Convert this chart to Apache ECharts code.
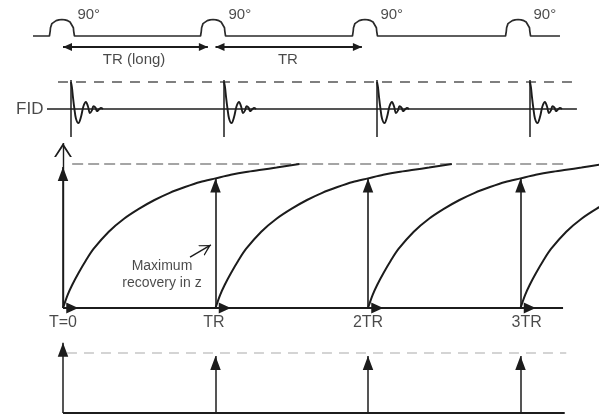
<!DOCTYPE html>
<html><head><meta charset="utf-8">
<script src="https://cdn.jsdelivr.net/npm/echarts@6/dist/echarts.min.js"></script>
<style>html,body{margin:0;padding:0;background:#fff}#c{width:599px;height:416px}</style>
</head><body><div id="c"></div>
<script>
// ---------------- data (time in units of TR) ----------------
const pulseTimes = [-0.007, 0.984, 1.98, 2.984];
const pulseLabel = '90°';
const humpDt  = [-0.082, -0.077, -0.075, -0.066, -0.053, -0.038, -0.020, 0, 0.020, 0.038, 0.053, 0.066, 0.075, 0.077, 0.082];
const humpAmp = [0, 0.3, 0.5, 0.75, 0.85, 0.93, 0.98, 1, 0.98, 0.93, 0.85, 0.75, 0.5, 0.3, 0];
const rfSpan = [-0.197, 3.259];
const trArrowSpans = [[0, 0.95], [1.0, 1.96]];
const trArrowLabels = ['TR (long)', 'TR'];
const trArrowLabelT = [0.466, 1.475];

const fidTimes = [0.052, 1.056, 2.059, 3.062];
const fidDt  = [0, 0.0066, 0.0131, 0.023, 0.0328, 0.0492, 0.0656, 0.082, 0.0984, 0.1115, 0.1246, 0.1377, 0.1475, 0.1607, 0.1705, 0.1836, 0.1967, 0.2098];
const fidAmp = [1.0, 0.8, 0.45, 0.0, -0.35, -0.52, -0.3, 0.1, 0.26, 0.1, -0.15, -0.05, 0.1, 0.05, -0.08, -0.02, 0.04, 0];
const fidMarkerRange = [-1.04, 1.07];
const fidBaseSpan = [-0.105, 3.37];
const fidDashSpan = [-0.033, 3.37];

const tickTimes = [0, 1, 2, 3];
const tickLabels = ['T=0', 'TR', '2TR', '3TR'];
const tickLabelT = [0, 0.99, 2.0, 3.04];
const recoveryDt = [0, 0.03, 0.06, 0.1, 0.15, 0.2, 0.3, 0.4, 0.5, 0.6, 0.7, 0.8, 0.9, 1.0, 1.1, 1.2, 1.3, 1.4, 1.55];
const recoveryMz = [0, 0.09, 0.16, 0.24, 0.33, 0.41, 0.53, 0.62, 0.69, 0.75, 0.80, 0.84, 0.875, 0.90, 0.925, 0.945, 0.96, 0.975, 1.0];
const mzArrowValues = [0.98, 0.90, 0.90, 0.90];
const mzAxisTop = 1.146;
const mzBaseSpan = [0, 3.279];
const mzDashSpan = [0.06, 3.31];
const annotationText = 'Maximum\nrecovery in z';
const annotationAt = [0.649, 0.233];
const annotationArrow = [[0.833, 0.354], [0.97, 0.438]];

const mxyArrowValues = [1.17, 0.95, 0.95, 0.95];
const mxyBaseSpan = [0, 3.29];
const mxyDashSpan = [0.026, 3.3];

// ---------------- layout ----------------
const W = 599, T0_PX = 63, TR_PX = 152.5;
const xMin = -T0_PX / TR_PX, xMax = (W - T0_PX) / TR_PX;
function band(zeroPx, pxPerUnit, yMin, yMax) {
  return { top: zeroPx - yMax * pxPerUnit, height: (yMax - yMin) * pxPerUnit, yMin, yMax };
}
const panels = [band(36, 16.5, -2, 2), band(109, 27, -1.5, 1.5), band(308, 144, -0.2, 1.25), band(413, 60, -0.05, 1.3)];

const C = '#1c1c1c';
const FONT = 'Liberation Sans';
// arrowhead glyphs: tip sits at the centre of a square box of side 2*len (box side = symbol size)
function head(width, len, open) {
  const s = 2 * len, c = len, hw = width / 2;
  let p = `path://M${c},0 L${c},0.01 M0,${c} L0,${c + 0.01} M${s},${c} L${s},${c + 0.01} `;
  if (open) {
    const t = 0.22 * hw;
    p += `M${c},${c} L${c + hw},${s} L${c + hw - t},${s} L${c},${c + 0.25 * len} L${c - hw + t},${s} L${c - hw},${s} Z`;
  } else {
    p += `M${c},${c} L${c + hw},${s} L${c - hw},${s} Z`;
  }
  return p;
}

function ax(g) { return { xAxisIndex: g, yAxisIndex: g }; }
function poly(g, pts, o) {
  o = o || {};
  return Object.assign({ type: 'line', data: pts, symbol: 'none', showSymbol: false, smooth: o.smooth || false,
    lineStyle: { color: o.color || C, width: o.width || 1.5, type: o.dash || 'solid' }, silent: true, z: 2 }, ax(g));
}
function segs(g, list, o) {
  o = o || {};
  return Object.assign({ type: 'lines', coordinateSystem: 'cartesian2d', data: list.map(s => ({ coords: s })),
    symbol: [o.from || 'none', o.to || 'none'], symbolSize: o.size || 20,
    lineStyle: { color: o.color || C, width: o.width || 1.5, opacity: 1, curveness: 0 }, silent: true, z: 3 }, ax(g));
}
function texts(g, items, o) {
  return Object.assign({ type: 'scatter', symbolSize: 1, itemStyle: { color: 'rgba(0,0,0,0)' },
    data: items.map(it => ({ value: [it[0], it[1]], name: it[2] })),
    label: { show: true, position: o.pos || 'inside', distance: 0, formatter: '{b}', color: C,
      fontSize: o.size || 15, fontFamily: FONT, lineHeight: o.lh || undefined, align: o.align || undefined },
    silent: true, z: 5 }, ax(g));
}

const series = [];
// RF pulse train
const rf = [[rfSpan[0], 0]];
pulseTimes.forEach(p => humpDt.forEach((d, i) => rf.push([p + d, humpAmp[i]])));
rf.push([rfSpan[1], 0]);
series.push(poly(0, rf, { width: 1.7, color: '#2a2a2a' }));
series.push(segs(0, trArrowSpans.map(s => [[s[0], -0.667], [s[1], -0.667]]), { from: head(7, 8), to: head(7, 8), size: 18, width: 2 }));
series.push(texts(0, pulseTimes.map(p => [p + 0.098, 1.27, pulseLabel]), { pos: 'right', size: 15 }));
series.push(texts(0, trArrowLabelT.map((t, i) => [t, -1.45, trArrowLabels[i]]), { size: 15 }));

// FID
series.push(poly(1, [[fidBaseSpan[0], 0], [fidBaseSpan[1], 0]], { width: 1.7 }));
series.push(poly(1, [[fidDashSpan[0], 1], [fidDashSpan[1], 1]], { width: 1.4, color: '#555', dash: [10, 8] }));
series.push(segs(1, fidTimes.map(t => [[t, fidMarkerRange[0]], [t, fidMarkerRange[1]]]), { width: 1.5 }));
fidTimes.forEach(t => series.push(poly(1, fidDt.map((d, i) => [t + d, fidAmp[i]]), { smooth: 0.35, width: 1.9 })));
series.push(texts(1, [[-0.125, 0, 'FID']], { pos: 'left', size: 17 }));

// Mz recovery
series.push(segs(2, [[[0, 0], [0, mzAxisTop]]], { to: head(14, 11, true), size: 28, width: 1.4 }));
series.push(poly(2, [[mzDashSpan[0], 1], [mzDashSpan[1], 1]], { width: 1.3, color: '#888', dash: [11, 5] }));
series.push(poly(2, [[mzBaseSpan[0], 0], [mzBaseSpan[1], 0]], { width: 2 }));
series.push(segs(2, tickTimes.map((t, i) => [[t, 0], [t, mzArrowValues[i]]]), { to: head(9, 12), size: 28, width: 1.6 }));
series.push(segs(2, tickTimes.map(t => [[t, 0], [t + 0.1, 0]]), { to: head(9, 10), size: 24, width: 2 }));
tickTimes.forEach(t => series.push(poly(2, recoveryDt.map((d, i) => [t + d, recoveryMz[i]]), { smooth: 0.3, width: 2 })));
series.push(texts(2, tickLabelT.map((t, i) => [t, -0.104, tickLabels[i]]), { size: 16 }));
series.push(texts(2, [[annotationAt[0], annotationAt[1], annotationText]], { size: 14, lh: 17, align: 'center' }));
series.push(segs(2, [annotationArrow], { to: head(10, 9, true), size: 22, width: 1.4 }));

// Mxy bottom
series.push(poly(3, [[mxyBaseSpan[0], 0], [mxyBaseSpan[1], 0]], { width: 2 }));
series.push(poly(3, [[mxyDashSpan[0], 1], [mxyDashSpan[1], 1]], { width: 1.2, color: '#aaa', dash: [10, 7] }));
series.push(segs(3, tickTimes.map((t, i) => [[t, 0], [t, mxyArrowValues[i]]]), { to: head(9, 12), size: 28, width: 1.5 }));

const option = {
  animation: false,
  backgroundColor: '#fff',
  grid: panels.map(p => ({ left: 0, width: W, top: p.top, height: p.height, containLabel: false })),
  xAxis: panels.map((p, i) => ({ type: 'value', gridIndex: i, min: xMin, max: xMax, show: false })),
  yAxis: panels.map((p, i) => ({ type: 'value', gridIndex: i, min: p.yMin, max: p.yMax, show: false })),
  series
};
const chart = echarts.init(document.getElementById('c'), null, { renderer: 'canvas' });
chart.setOption(option);
</script>
</body></html>
